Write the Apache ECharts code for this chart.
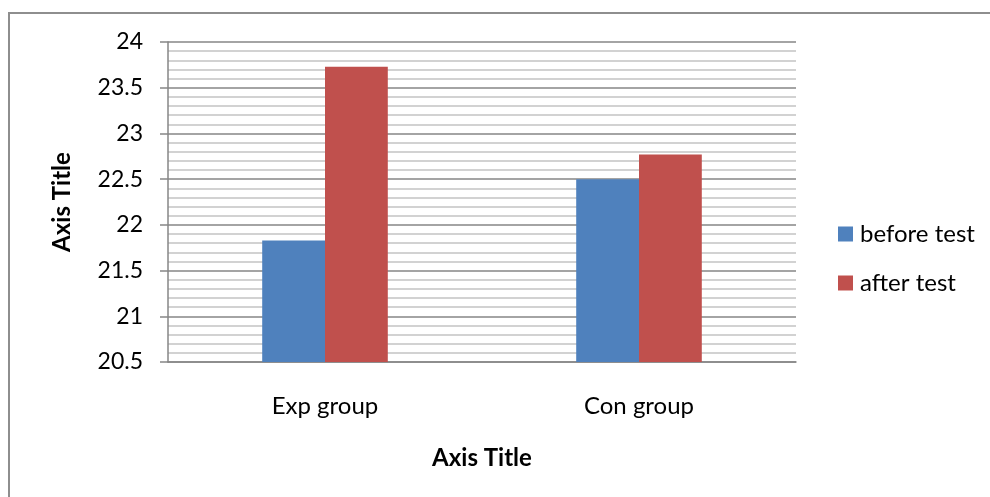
<!DOCTYPE html>
<html>
<head>
<meta charset="utf-8">
<script src="https://cdn.jsdelivr.net/npm/echarts@6/dist/echarts.min.js"></script>
<style>
html,body{margin:0;padding:0;background:#fff;}
#chart{width:990px;height:497px;}
</style>
</head>
<body>
<div id="chart"></div>
<script>
var categories = ['Exp group', 'Con group'];
var beforeTest = [21.83, 22.50];
var afterTest = [23.73, 22.77];
var seriesNames = ['before test', 'after test'];
var yMin = 20.5, yMax = 24, yStep = 0.5;

var FONT = 'Lato';
var chart = echarts.init(document.getElementById('chart'));
chart.setOption({
  animation: false,
  backgroundColor: '#ffffff',
  graphic: [{
    type: 'rect',
    shape: {x: 9, y: 13, width: 1000, height: 600},
    style: {fill: 'none', stroke: '#8e8e8e', lineWidth: 2},
    silent: true, z: -1
  }],
  grid: {left: 168, top: 42, right: 194, bottom: 135, containLabel: false},
  legend: {
    orient: 'vertical',
    left: 838, top: 222,
    padding: 0,
    itemWidth: 15, itemHeight: 15, itemGap: 25,
    icon: 'rect',
    textStyle: {fontFamily: FONT, fontSize: 24, color: '#000', padding: [0, 0, 0, 2]},
    data: seriesNames
  },
  xAxis: {
    type: 'category',
    data: categories,
    name: 'Axis Title',
    nameLocation: 'middle',
    nameGap: 84,
    nameTextStyle: {fontFamily: FONT, fontSize: 24, fontWeight: 'bold', color: '#000'},
    axisLine: {lineStyle: {color: '#868686', width: 1.5}},
    axisTick: {show: false},
    axisLabel: {fontFamily: FONT, fontSize: 24, color: '#000', margin: 32}
  },
  yAxis: {
    type: 'value',
    min: yMin, max: yMax, interval: yStep,
    name: 'Axis Title',
    nameLocation: 'middle',
    nameGap: 94,
    nameTextStyle: {fontFamily: FONT, fontSize: 24, fontWeight: 'bold', color: '#000'},
    axisLine: {show: true, lineStyle: {color: '#868686', width: 1.5}},
    axisTick: {show: true, length: 8, lineStyle: {color: '#868686', width: 1.5}},
    axisLabel: {fontFamily: FONT, fontSize: 23, color: '#000', margin: 25,
      formatter: function (v) { return String(+v.toFixed(1)); }},
    splitLine: {show: true, lineStyle: {color: '#868686', width: 1.5}},
    minorTick: {show: false, splitNumber: 5},
    minorSplitLine: {show: true, lineStyle: {color: '#c4c4c4', width: 1.5}}
  },
  series: [
    {name: seriesNames[0], type: 'bar', data: beforeTest, barGap: '0%', barCategoryGap: '60%',
     itemStyle: {color: '#4f81bd'}},
    {name: seriesNames[1], type: 'bar', data: afterTest, barGap: '0%', barCategoryGap: '60%',
     itemStyle: {color: '#c0504d'}}
  ]
});
</script>
</body>
</html>
